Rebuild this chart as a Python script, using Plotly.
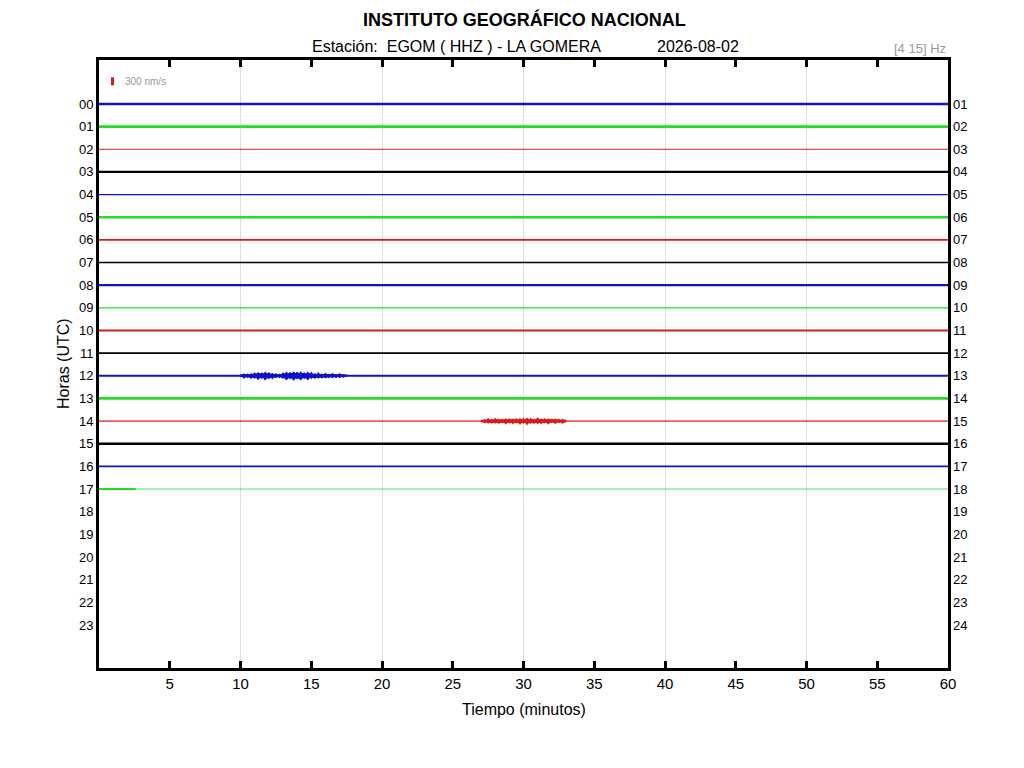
import plotly.graph_objects as go

# Data
hours = [0, 1, 2, 3, 4, 5, 6, 7, 8, 9, 10, 11, 12, 13, 14, 15, 16, 17]
left_labels = ['00', '01', '02', '03', '04', '05', '06', '07', '08', '09', '10', '11',
               '12', '13', '14', '15', '16', '17', '18', '19', '20', '21', '22', '23']
right_labels = ['01', '02', '03', '04', '05', '06', '07', '08', '09', '10', '11', '12',
                '13', '14', '15', '16', '17', '18', '19', '20', '21', '22', '23', '24']
label_rows = [0, 1, 2, 3, 4, 5, 6, 7, 8, 9, 10, 11,
              12, 13, 14, 15, 16, 17, 18, 19, 20, 21, 22, 23]
x_ticks = [5, 10, 15, 20, 25, 30, 35, 40, 45, 50, 55, 60]
grid_minutes = [10, 20, 30, 40, 50]

# colour of each hourly trace
row_color = ['blue', 'green', 'red', 'black', 'blue', 'green', 'red', 'black', 'blue',
             'green', 'red', 'black', 'blue', 'green', 'red', 'black', 'blue', 'green']
# background noise level of each hour (half amplitude, nm/s)
row_noise = [45, 55, 22, 45, 24, 45, 30, 30, 45, 24, 38, 30, 40, 50, 24, 45, 30, 35]
# minute at which data ends in each hour
row_end = [60, 60, 60, 60, 60, 60, 60, 60, 60, 60, 60, 60, 60, 60, 60, 60, 60, 2.6]

# events (envelope, nm/s)
burst12_min = [10.0, 10.25, 10.5, 10.75, 11.0, 11.25, 11.5, 11.75, 12.0, 12.25, 12.5,
               12.75, 13.0, 13.25, 13.5, 13.75, 14.0, 14.25, 14.5, 14.75, 15.0, 15.25,
               15.5, 15.75, 16.0, 16.25, 16.5, 16.75, 17.0, 17.25, 17.5]
burst12_amp = [45, 75, 56, 83, 94, 132, 105, 150, 113, 94, 68, 56, 94, 150, 120, 169,
               132, 158, 113, 143, 105, 83, 94, 68, 83, 60, 75, 56, 68, 45, 38]
burst14_min = [27.0, 27.25, 27.5, 27.75, 28.0, 28.25, 28.5, 28.75, 29.0, 29.25, 29.5,
               29.75, 30.0, 30.25, 30.5, 30.75, 31.0, 31.25, 31.5, 31.75, 32.0, 32.25,
               32.5, 32.75, 33.0]
burst14_amp = [38, 56, 75, 68, 83, 75, 60, 90, 75, 83, 68, 98, 83, 113, 90, 75, 105,
               83, 68, 90, 60, 75, 56, 68, 45]

scale_nm = 300

palette = {'blue': '#1212c4', 'green': '#22dd22', 'red': '#dc1a1a', 'black': '#000000'}
nm_per_row = 850.0   # 300 nm/s ~ 8 px, row spacing ~22.6 px
px_per_row = 22.6
font = 'Liberation Sans, Arial, sans-serif'

fig = go.Figure()

# hourly traces
for h in hours:
    col = palette[row_color[h]]
    w = max(1.0, 2 * row_noise[h] / nm_per_row * px_per_row)
    fig.add_trace(go.Scatter(
        x=[0, row_end[h]], y=[h, h], mode='lines',
        line=dict(color=col, width=w), hoverinfo='skip', showlegend=False))
    if row_end[h] < 60:
        fig.add_trace(go.Scatter(
            x=[row_end[h], 60], y=[h, h], mode='lines',
            line=dict(color=col, width=1), opacity=0.8,
            hoverinfo='skip', showlegend=False))

# events: filled core envelope plus wiggles around the hour line
for h, mins, amps in [(12, burst12_min, burst12_amp), (14, burst14_min, burst14_amp)]:
    col = palette[row_color[h]]
    core = [a * 0.6 / nm_per_row for a in amps]
    fig.add_trace(go.Scatter(
        x=mins + mins[::-1], y=[h - c for c in core] + [h + c for c in core[::-1]],
        mode='lines', fill='toself', fillcolor=col, line=dict(color=col, width=1),
        hoverinfo='skip', showlegend=False))
    ys = [h - a / nm_per_row if i % 2 == 0 else h + a / nm_per_row for i, a in enumerate(amps)]
    fig.add_trace(go.Scatter(
        x=mins, y=ys, mode='lines',
        line=dict(color=col, width=1.5), hoverinfo='skip', showlegend=False))
    fig.add_trace(go.Scatter(
        x=mins, y=[h + a / nm_per_row * 0.8 if i % 2 == 0 else h - a / nm_per_row * 0.8
                   for i, a in enumerate(amps)], mode='lines',
        line=dict(color=col, width=1.5), hoverinfo='skip', showlegend=False))

# amplitude scale bar
fig.add_trace(go.Scatter(
    x=[0.95, 0.95], y=[-1.0 - scale_nm / 2 / nm_per_row, -1.0 + scale_nm / 2 / nm_per_row],
    mode='lines', line=dict(color='#e01010', width=3),
    xaxis='x', yaxis='y2', hoverinfo='skip', showlegend=False))

fig.add_annotation(x=1.7, y=-1.0, xref='x', yref='y', text='300 nm/s', showarrow=False,
                   xanchor='left', yanchor='middle', font=dict(family=font, size=10, color='#999999'))

fig.add_annotation(x=0.5006, y=1.0674, xref='paper', yref='paper',
                   text='<b>INSTITUTO GEOGRÁFICO NACIONAL</b>', showarrow=False,
                   xanchor='center', yanchor='middle', font=dict(family=font, size=18, color='#000000'))
fig.add_annotation(x=0.2485, y=1.023, xref='paper', yref='paper',
                   text='Estación:  EGOM ( HHZ ) - LA GOMERA', showarrow=False,
                   xanchor='left', yanchor='middle', font=dict(family=font, size=16, color='#000000'))
fig.add_annotation(x=0.655, y=1.023, xref='paper', yref='paper',
                   text='2026-08-02', showarrow=False,
                   xanchor='left', yanchor='middle', font=dict(family=font, size=16, color='#000000'))
fig.add_annotation(x=1.0, y=1.0197, xref='paper', yref='paper',
                   text='[4 15] Hz', showarrow=False,
                   xanchor='right', yanchor='middle', font=dict(family=font, size=13, color='#999999'))
fig.add_annotation(x=0.5, y=-0.069, xref='paper', yref='paper',
                   text='Tiempo (minutos)', showarrow=False,
                   xanchor='center', yanchor='middle', font=dict(family=font, size=16, color='#000000'))
fig.add_annotation(x=-0.0424, y=0.5, xref='paper', yref='paper', textangle=-90,
                   text='Horas (UTC)', showarrow=False,
                   xanchor='center', yanchor='middle', font=dict(family=font, size=16, color='#000000'))

# page body has an 8 px margin, so the figure is 16 px smaller than the window
fig.update_layout(
    width=1008, height=752,
    margin=dict(l=91, r=68, t=52, b=92),
    plot_bgcolor='white', paper_bgcolor='white',
    font=dict(family=font, color='#000000'),
    xaxis=dict(
        range=[0, 60], tickvals=x_ticks, ticks='inside', ticklen=7, tickwidth=3,
        tickcolor='black', showgrid=False, zeroline=False,
        showline=True, linewidth=3, linecolor='black', mirror='ticks',
        tickfont=dict(size=15),
        minor=dict(tickvals=grid_minutes, showgrid=True, gridcolor='#dedede', gridwidth=1, ticks=''),
    ),
    yaxis=dict(
        range=[24.9, -1.94], tickvals=label_rows, ticktext=left_labels, ticks='',
        showgrid=False, zeroline=False, showline=True, linewidth=3, linecolor='black',
        mirror=True, tickfont=dict(size=13),
    ),
    yaxis2=dict(
        range=[24.9, -1.94], overlaying='y', side='right', tickvals=label_rows,
        ticktext=right_labels, ticks='', showgrid=False, zeroline=False, showline=False,
        tickfont=dict(size=13), ticklabelstandoff=4,
    ),
)

fig.write_html('out.html')
